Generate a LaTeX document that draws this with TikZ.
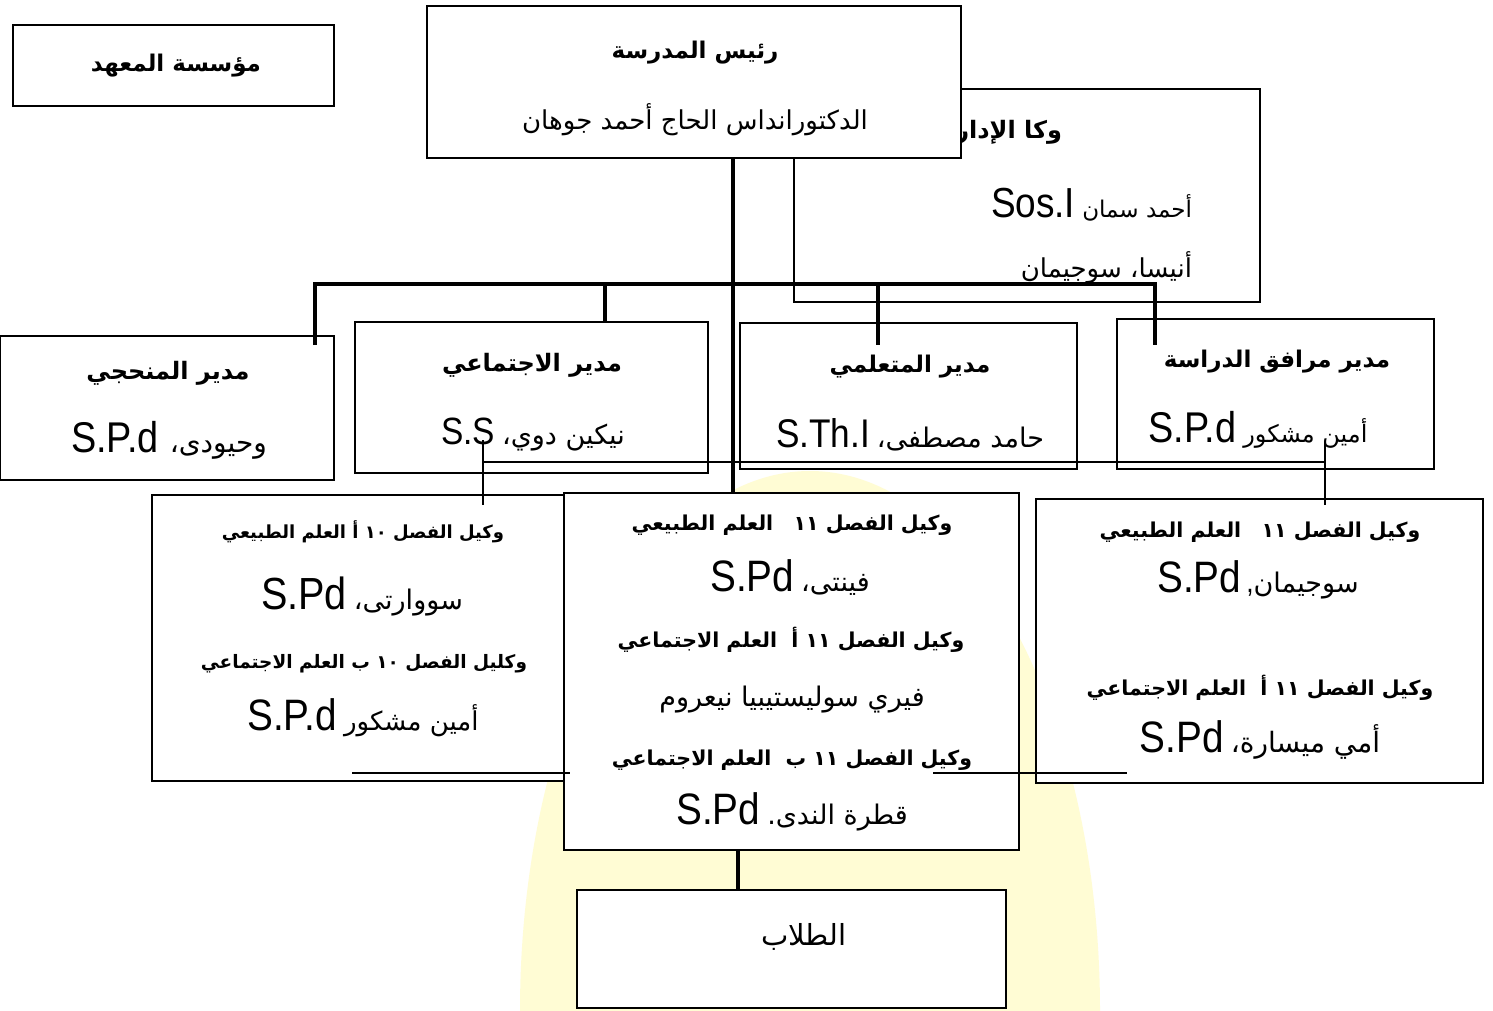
\documentclass[tikz,border=0pt]{standalone}
\usepackage{fontspec}
\usetikzlibrary{fit}
\TeXXeTstate=1
\newfontfamily\arf[Script=Arabic]{DejaVu Sans}
\newfontfamily\latf[FakeStretch=0.88]{Liberation Sans}
\definecolor{wm}{RGB}{255,252,212}
\newcommand\arn[1]{\arf\fontsize{#1}{#1}\selectfont}
\newcommand\arb[1]{\arf\bfseries\fontsize{#1}{#1}\selectfont}
\newcommand\latin[2]{{\latf\fontsize{#1}{#1}\selectfont #2}\hspace{7pt}}
\tikzset{
  box/.style={draw=black, line width=1.5pt, fill=white, inner sep=0pt, outer sep=0pt},
  txt/.style={inner sep=0pt, outer sep=0pt, anchor=center},
  mainline/.style={line width=3.5pt, line join=miter},
  thinline/.style={line width=1.3pt},
}
\begin{document}
\begin{tikzpicture}[x=1pt,y=-1pt]
\useasboundingbox (0,0) rectangle (1493,1011);
\fill[white] (0,0) rectangle (1493,1011);
\begin{scope}
  \clip (0,0) rectangle (1493,1011);
  \fill[wm] (810,1011) ellipse [x radius=290, y radius=540];
\end{scope}

% institution
\node[box, fit={(13,25) (334,106)}] (inst) {};
\node[txt] (inst-t) at (176,66) {\arb{23}\beginR مؤسسة المعهد\endR};

% administration (behind principal)
\node[box, fit={(794,89) (1260,302)}] (wakil) {};
\node[txt, anchor=east] (wakil-t1) at (1062,132) {\arb{24}\beginR وكا الإدارة\endR};
\node[txt, anchor=east] (wakil-t2) at (1192,205) {\latin{42}{Sos.I}{\arn{23}\beginR أحمد سمان\endR}};
\node[txt, anchor=east] (wakil-t3) at (1192,268) {\arn{26}\beginR أنيسا، سوجيمان\endR};

% principal
\node[box, fit={(427,6) (961,158)}] (principal) {};
\node[txt] (principal-t1) at (695,53) {\arb{23}\beginR رئيس المدرسة\endR};
\node[txt] (principal-t2) at (695,120) {\arn{26}\beginR الدكتورانداس الحاج أحمد جوهان\endR};

% row 2
\node[box, fit={(0,336) (334,480)}] (manhaji) {};
\node[txt] (manhaji-t1) at (168,373) {\arb{24}\beginR مدير المنحجي\endR};
\node[txt] (manhaji-t2) at (169,440) {\latin{43}{S.P.d}\hspace{4pt}{\arn{28}\beginR وحيودى،\endR}};

\node[box, fit={(355,322) (708,473)}] (ijtimai) {};
\node[txt] (ijtimai-t1) at (532,365) {\arb{24}\beginR مدير الاجتماعي\endR};
\node[txt] (ijtimai-t2) at (533,435) {\latin{38}{S.S}{\arn{27}\beginR نيكين دوي،\endR}};

\node[box, fit={(740,323) (1077,469)}] (mutaallimi) {};
\node[txt] (mutaallimi-t1) at (910,367) {\arb{23}\beginR مدير المتعلمي\endR};
\node[txt] (mutaallimi-t2) at (910,435) {\latin{40}{S.Th.I}{\arn{27}\beginR حامد مصطفى،\endR}};

\node[box, fit={(1117,319) (1434,469)}] (marafiq) {};
\node[txt] (marafiq-t1) at (1277,362) {\arb{23}\beginR مدير مرافق الدراسة\endR};
\node[txt] (marafiq-t2) at (1258,430) {\latin{43}{S.P.d}{\arn{24}\beginR أمين مشكور\endR}};

% row 3
\node[box, fit={(152,495) (565,781)}] (leftbox) {};
\node[txt] (left-t1) at (363,532) {\arb{18}\beginR وكيل الفصل \beginL ١٠\endL{} أ العلم الطبيعي\endR};
\node[txt] (left-t2) at (362,596) {\latin{45}{S.Pd}{\arn{27}\beginR سووارتى،\endR}};
\node[txt] (left-t3) at (364,664) {\arb{18.5}\beginR وكليل الفصل \beginL ١٠\endL{} ب العلم الاجتماعي\endR};
\node[txt] (left-t4) at (363,718) {\latin{44}{S.P.d}{\arn{26}\beginR أمين مشكور\endR}};

\node[box, fit={(564,493) (1019,850)}] (midbox) {};
\node[txt] (mid-t1) at (792,525) {\arb{20.5}\beginR وكيل الفصل \beginL ١١\endL\quad العلم الطبيعي\endR};
\node[txt] (mid-t2) at (790,578) {\latin{44}{S.Pd}{\arn{27}\beginR فينتى،\endR}};
\node[txt] (mid-t3) at (791,640) {\arb{20.5}\beginR وكيل الفصل \beginL ١١\endL{} أ\ \ العلم الاجتماعي\endR};
\node[txt] (mid-t4) at (792,700) {\arn{27}\beginR فيري سوليستيبيا نيعروم\endR};
\node[txt] (mid-t5) at (792,760) {\arb{20.5}\beginR وكيل الفصل \beginL ١١\endL{} ب\ \ العلم الاجتماعي\endR};
\node[txt] (mid-t6) at (792,812) {\latin{44}{S.Pd}{\arn{27}\beginR قطرة الندى.\endR}};

\node[box, fit={(1036,499) (1483,783)}] (rightbox) {};
\node[txt] (right-t1) at (1260,532) {\arb{20.5}\beginR وكيل الفصل \beginL ١١\endL\quad العلم الطبيعي\endR};
\node[txt] (right-t2) at (1258,580) {{\latf\fontsize{44}{44}\selectfont S.Pd}\hspace{5pt}{\latf\fontsize{30}{30}\selectfont ,}{\arn{27}\beginR سوجيمان\endR}};
\node[txt] (right-t3) at (1260,688) {\arb{20.5}\beginR وكيل الفصل \beginL ١١\endL{} أ\ \ العلم الاجتماعي\endR};
\node[txt] (right-t4) at (1260,740) {\latin{44}{S.Pd}{\arn{28}\beginR أمي ميسارة،\endR}};

% students
\node[box, fit={(577,890) (1006,1008)}] (students) {};
\node[txt] (students-t) at (804,937) {\arn{29}\beginR الطلاب\endR};

% connector coordinates
\coordinate (spine) at (733,0);
\coordinate (busL) at (315,284);
\coordinate (busR) at (1155,284);
\coordinate (endL) at (315,345);
\coordinate (endR) at (1155,345);
\coordinate (brA) at (605,284);
\coordinate (brB) at (878,284);
\coordinate (endB) at (878,345);
\coordinate (thinA) at (483,440);
\coordinate (thinAe) at (483,505);
\coordinate (thinB) at (1325,442);
\coordinate (thinBe) at (1325,505);
\coordinate (lowL1) at (352,773);
\coordinate (lowL2) at (570,773);
\coordinate (lowR1) at (933,773);
\coordinate (lowR2) at (1127,773);
\coordinate (stud) at (738,0);

% connectors
\draw[mainline] (spine |- principal.south) -- (spine |- midbox.north);
\draw[mainline] (endL) -- (busL) -- (busR) -- (endR);
\draw[mainline] (brA) -- (brA |- ijtimai.north);
\draw[mainline] (brB) -- (endB);
\draw[thinline] (thinA) -- (thinAe);
\draw[thinline] (thinA |- 0,462) -- (thinB |- 0,462);
\draw[thinline] (thinB) -- (thinBe);
\draw[thinline] (lowL1) -- (lowL2);
\draw[thinline] (lowR1) -- (lowR2);
\draw[mainline] (stud |- midbox.south) -- (stud |- students.north);
\end{tikzpicture}
\end{document}
